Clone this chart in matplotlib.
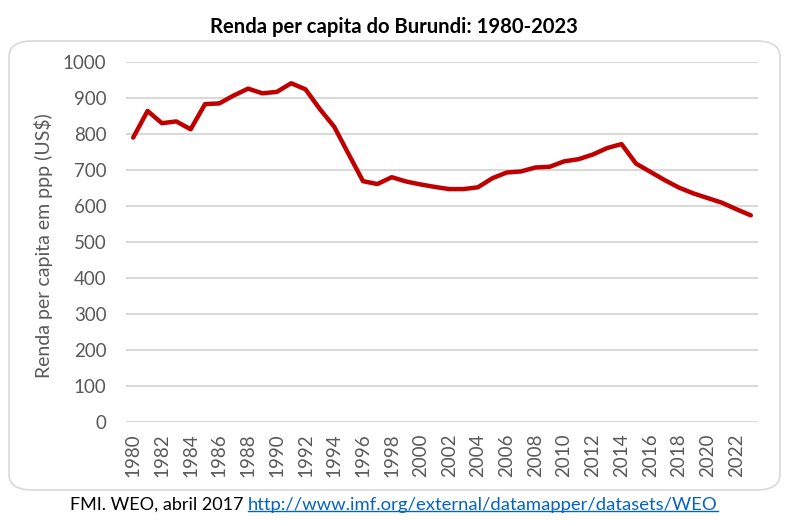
import matplotlib
matplotlib.use("Agg")
import matplotlib.pyplot as plt
from matplotlib.patches import FancyBboxPatch
from matplotlib.lines import Line2D

years = list(range(1980, 2024))
income = [790, 864, 830, 835, 813, 883, 885, 907, 926, 913,
          917, 941, 924, 869, 820, 744, 669, 661, 680, 668,
          660, 653, 647, 647, 652, 677, 693, 696, 707, 709,
          724, 730, 743, 761, 772, 718, 695, 672, 651, 635,
          622, 609, 591, 574]
yticks = list(range(0, 1001, 100))
xticks = list(range(1980, 2023, 2))

title = "Renda per capita do Burundi: 1980-2023"
ylabel = "Renda per capita em ppp (US$)"
source = "FMI. WEO, abril 2017"
link = "http://www.imf.org/external/datamapper/datasets/WEO"

plt.rcParams['font.family'] = ['Lato', 'DejaVu Sans']

W, H = 788, 526
fig = plt.figure(figsize=(W / 100, H / 100), dpi=100)

# rounded frame
frame = FancyBboxPatch((9 / W, 1 - 490 / H), (780 - 9) / W, (490 - 41) / H,
                       boxstyle="round,pad=0,rounding_size=0.03",
                       transform=fig.transFigure, facecolor='none',
                       edgecolor='#d9d9d9', linewidth=1.2, zorder=-1)
fig.patches.append(frame)

ax = fig.add_axes([126 / W, 1 - 422 / H, (758 - 126) / W, (422 - 62) / H])
ax.set_facecolor('none')
ax.plot(years, income, color='#c00000', linewidth=3.2, solid_joinstyle='round',
        solid_capstyle='round', zorder=3)
ax.set_xlim(1979.5, 2023.5)
ax.set_ylim(0, 1000)
ax.set_yticks(yticks)
ax.set_xticks(xticks)
ax.set_xticklabels([str(x) for x in xticks], rotation=90)
ax.grid(axis='y', color='#d9d9d9', linewidth=1.5, zorder=0)
ax.set_axisbelow(True)
for s in ax.spines.values():
    s.set_visible(False)
ax.tick_params(axis='both', length=0, colors='#595959', labelsize=13.5)
ax.tick_params(axis='y', pad=14)
ax.tick_params(axis='x', pad=8)
ax.set_ylabel(ylabel, color='#595959', fontsize=14, labelpad=7)
ax.yaxis.set_label_coords(38 / W - 126 / W, 0.5, transform=fig.transFigure) if False else None
ax.yaxis.label.set_position((0, (422 - 246) / 360))

fig.text(394 / W, 1 - 27 / H, title, ha='center', va='center',
         fontsize=14.6, fontweight='bold', color='black')

y_src = 1 - 505 / H
t1 = fig.text(243 / W, y_src, source, ha='right', va='center', fontsize=13.0, color='black')
t2 = fig.text(248 / W, y_src, link, ha='left', va='center', fontsize=13.3, color='#0563c1')
fig.canvas.draw()
bb = t2.get_window_extent(renderer=fig.canvas.get_renderer())
inv = fig.transFigure.inverted()
(x0, y0), (x1, y1) = inv.transform([(bb.x0, bb.y0), (bb.x1, bb.y1)])
fig.add_artist(Line2D([x0, x1], [y0 + 2 / H, y0 + 2 / H], color='#0563c1',
                      linewidth=1, transform=fig.transFigure))

fig.savefig('out.png', dpi=100)
